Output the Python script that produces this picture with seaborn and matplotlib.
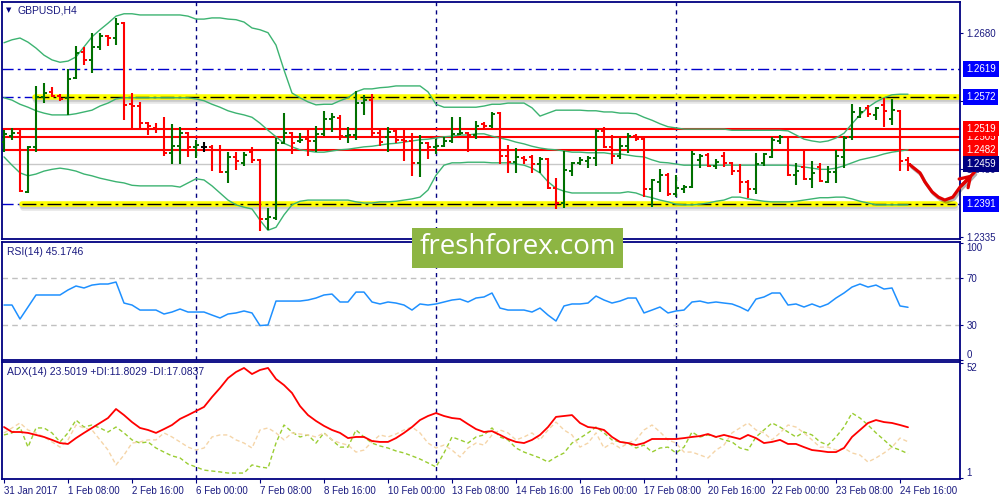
import numpy as np
import pandas as pd
import matplotlib
matplotlib.use("Agg")
import matplotlib.pyplot as plt
import matplotlib.patheffects as pe
from matplotlib.patches import Rectangle
from matplotlib.transforms import blended_transform_factory
import seaborn as sns

# GBPUSD H4, 31 Jan 2017 00:00 .. 24 Feb 2017 20:00 (prices in 1/10000)
bar_open = np.array([
    12496, 12506, 12511, 12412, 12488, 12572, 12581, 12574, 12571, 12604,
    12648, 12635, 12657, 12675, 12672, 12697, 12560, 12557, 12528, 12520,
    12518, 12478, 12489, 12511, 12488, 12488, 12488, 12483, 12445, 12471,
    12461, 12479, 12466, 12366, 12368, 12494, 12511, 12498, 12501, 12498,
    12510, 12535, 12537, 12506, 12508, 12562, 12567, 12511, 12505, 12515,
    12500, 12498, 12461, 12494, 12488, 12489, 12498, 12510, 12511, 12508,
    12527, 12523, 12545, 12472, 12462, 12469, 12471, 12459, 12467, 12418,
    12393, 12447, 12461, 12464, 12469, 12515, 12488, 12472, 12489, 12506,
    12501, 12417, 12429, 12440, 12408, 12417, 12420, 12466, 12474, 12456,
    12472, 12461, 12447, 12429, 12417, 12461, 12471, 12498, 12505, 12440,
    12454, 12434, 12454, 12429, 12445, 12471, 12505, 12538, 12554, 12542,
    12559, 12535, 12549, 12466]) / 10000
bar_high = np.array([
    12516, 12520, 12516, 12489, 12591, 12596, 12589, 12577, 12620, 12659,
    12657, 12681, 12681, 12677, 12706, 12699, 12579, 12564, 12530, 12528,
    12538, 12527, 12522, 12513, 12500, 12496, 12491, 12491, 12479, 12479,
    12479, 12488, 12467, 12385, 12503, 12545, 12513, 12511, 12520, 12523,
    12549, 12545, 12542, 12522, 12582, 12576, 12577, 12520, 12522, 12520,
    12520, 12511, 12508, 12496, 12501, 12505, 12538, 12538, 12513, 12532,
    12530, 12547, 12547, 12491, 12486, 12472, 12474, 12471, 12469, 12435,
    12481, 12462, 12471, 12472, 12518, 12522, 12508, 12503, 12511, 12510,
    12505, 12434, 12450, 12444, 12440, 12423, 12481, 12476, 12478, 12467,
    12479, 12462, 12459, 12432, 12478, 12478, 12505, 12508, 12506, 12461,
    12481, 12464, 12461, 12456, 12483, 12506, 12560, 12555, 12559, 12555,
    12571, 12569, 12550, 12471]) / 10000
bar_low = np.array([
    12479, 12500, 12412, 12410, 12479, 12562, 12572, 12566, 12542, 12603,
    12626, 12613, 12652, 12659, 12660, 12533, 12520, 12520, 12508, 12511,
    12472, 12459, 12459, 12471, 12469, 12479, 12447, 12444, 12427, 12449,
    12456, 12461, 12346, 12347, 12364, 12493, 12476, 12494, 12472, 12479,
    12506, 12513, 12500, 12494, 12500, 12542, 12505, 12489, 12479, 12494,
    12464, 12439, 12437, 12467, 12476, 12488, 12494, 12508, 12479, 12501,
    12520, 12520, 12459, 12444, 12444, 12459, 12444, 12444, 12417, 12383,
    12385, 12439, 12457, 12452, 12456, 12486, 12459, 12467, 12478, 12498,
    12403, 12386, 12412, 12405, 12403, 12410, 12418, 12452, 12454, 12450,
    12454, 12440, 12410, 12402, 12408, 12456, 12469, 12493, 12439, 12423,
    12432, 12418, 12429, 12427, 12427, 12452, 12500, 12537, 12538, 12533,
    12522, 12525, 12447, 12447]) / 10000
bar_close = np.array([
    12510, 12511, 12413, 12488, 12572, 12579, 12574, 12569, 12603, 12647,
    12635, 12657, 12675, 12672, 12696, 12559, 12557, 12528, 12523, 12518,
    12478, 12489, 12511, 12488, 12491, 12488, 12483, 12445, 12471, 12464,
    12474, 12466, 12366, 12369, 12494, 12511, 12494, 12500, 12498, 12510,
    12535, 12538, 12506, 12508, 12562, 12567, 12511, 12496, 12513, 12500,
    12498, 12461, 12494, 12488, 12489, 12498, 12510, 12511, 12508, 12523,
    12523, 12544, 12472, 12462, 12471, 12466, 12459, 12467, 12418, 12393,
    12449, 12461, 12466, 12469, 12515, 12488, 12472, 12489, 12506, 12501,
    12417, 12432, 12440, 12408, 12418, 12420, 12476, 12472, 12456, 12462,
    12461, 12447, 12429, 12417, 12459, 12476, 12500, 12505, 12440, 12447,
    12434, 12444, 12430, 12445, 12472, 12503, 12547, 12547, 12544, 12554,
    12549, 12550, 12464, 12459]) / 10000

# Bollinger bands (20)
bb_upper = np.array([
    12664, 12669, 12672, 12665, 12655, 12643, 12635, 12631, 12633, 12640,
    12657, 12674, 12686, 12697, 12709, 12713, 12713, 12711, 12711, 12711,
    12711, 12711, 12711, 12709, 12704, 12704, 12706, 12706, 12704, 12703,
    12699, 12689, 12686, 12681, 12660, 12618, 12579, 12571, 12564, 12559,
    12560, 12560, 12566, 12571, 12581, 12586, 12586, 12588, 12589, 12591,
    12591, 12591, 12591, 12581, 12560, 12555, 12555, 12555, 12555, 12555,
    12557, 12560, 12560, 12562, 12562, 12562, 12554, 12540, 12545, 12550,
    12550, 12550, 12550, 12549, 12549, 12547, 12547, 12545, 12545, 12544,
    12538, 12533, 12527, 12522, 12520, 12518, 12518, 12518, 12518, 12518,
    12518, 12516, 12516, 12516, 12516, 12516, 12516, 12516, 12515, 12508,
    12501, 12498, 12496, 12498, 12503, 12511, 12527, 12542, 12555, 12564,
    12571, 12576, 12577, 12577]) / 10000
bb_mid = np.array([
    12571, 12567, 12560, 12555, 12549, 12545, 12542, 12542, 12542, 12544,
    12547, 12550, 12557, 12562, 12569, 12571, 12571, 12571, 12571, 12571,
    12571, 12571, 12571, 12571, 12569, 12566, 12560, 12555, 12549, 12545,
    12542, 12538, 12528, 12516, 12505, 12494, 12488, 12483, 12481, 12479,
    12479, 12481, 12483, 12484, 12486, 12488, 12489, 12491, 12493, 12494,
    12496, 12498, 12500, 12501, 12503, 12505, 12506, 12508, 12508, 12510,
    12510, 12506, 12503, 12500, 12496, 12493, 12489, 12486, 12484, 12483,
    12481, 12479, 12479, 12478, 12478, 12478, 12476, 12476, 12474, 12472,
    12471, 12466, 12462, 12461, 12459, 12457, 12457, 12457, 12457, 12457,
    12457, 12457, 12457, 12457, 12457, 12457, 12457, 12457, 12457, 12456,
    12454, 12452, 12450, 12450, 12452, 12456, 12461, 12466, 12469, 12472,
    12476, 12479, 12481, 12483]) / 10000
bb_lower = np.array([
    12471, 12457, 12444, 12439, 12442, 12447, 12450, 12452, 12450, 12447,
    12442, 12439, 12435, 12432, 12429, 12427, 12423, 12422, 12422, 12422,
    12422, 12422, 12420, 12427, 12434, 12432, 12422, 12410, 12398, 12390,
    12386, 12383, 12364, 12347, 12352, 12373, 12390, 12396, 12398, 12398,
    12398, 12398, 12398, 12398, 12395, 12393, 12393, 12395, 12395, 12396,
    12398, 12400, 12403, 12415, 12440, 12457, 12461, 12461, 12462, 12462,
    12462, 12461, 12461, 12461, 12459, 12457, 12452, 12444, 12429, 12418,
    12413, 12410, 12410, 12410, 12410, 12410, 12410, 12410, 12412, 12410,
    12405, 12402, 12398, 12395, 12391, 12390, 12390, 12391, 12393, 12396,
    12398, 12403, 12403, 12400, 12398, 12396, 12395, 12395, 12395, 12396,
    12398, 12400, 12402, 12402, 12403, 12403, 12400, 12396, 12393, 12390,
    12390, 12390, 12390, 12390]) / 10000

rsi = [
    47.1, 47.1, 35.1, 45.4, 55.7, 55.7, 55.7, 55.7, 60.0, 63.4,
    61.7, 64.2, 65.1, 65.1, 66.8, 48.8, 47.1, 42.8, 42.8, 42.8,
    39.4, 41.1, 43.7, 41.1, 41.1, 41.1, 38.5, 36.0, 39.4, 40.3,
    42.0, 40.3, 29.5, 30.0, 50.5, 50.5, 50.5, 50.5, 51.4, 53.1,
    55.7, 56.5, 49.7, 49.7, 58.2, 58.2, 49.7, 48.0, 49.7, 48.8,
    47.1, 42.8, 48.0, 47.1, 48.0, 49.7, 51.4, 52.2, 49.7, 53.1,
    54.0, 57.4, 44.5, 42.8, 42.8, 42.8, 41.1, 44.5, 38.5, 33.4,
    46.3, 48.0, 48.0, 48.8, 54.8, 51.4, 48.8, 50.5, 53.1, 53.1,
    40.3, 42.8, 45.4, 40.3, 42.0, 42.8, 49.7, 50.5, 48.8, 49.7,
    48.8, 48.0, 45.4, 42.0, 52.2, 54.0, 57.4, 57.4, 47.1, 48.0,
    45.4, 48.0, 45.4, 48.0, 53.1, 57.4, 62.5, 65.1, 62.5, 64.2,
    60.8, 61.7, 46.3, 45.17]

adx = [
    23.6, 21.4, 21.4, 21.0, 20.1, 19.2, 17.9, 16.5, 16.1, 18.7,
    21.0, 23.2, 25.4, 27.6, 31.6, 28.9, 25.8, 23.2, 22.3, 21.0,
    22.7, 24.5, 27.2, 28.9, 30.7, 32.5, 36.9, 40.9, 45.3, 48.0,
    49.8, 47.1, 48.9, 49.8, 44.9, 42.2, 38.7, 32.9, 28.9, 26.3,
    24.1, 22.3, 21.0, 18.7, 19.2, 19.2, 17.4, 17.0, 17.0, 18.7,
    21.0, 23.6, 26.7, 28.5, 29.8, 28.5, 27.6, 27.2, 24.9, 22.7,
    21.4, 21.8, 20.1, 18.3, 17.0, 16.5, 17.9, 20.1, 23.6, 28.1,
    28.5, 28.9, 25.4, 23.6, 23.2, 22.3, 19.2, 17.0, 16.5, 15.6,
    16.5, 18.3, 18.3, 18.3, 18.3, 18.7, 19.2, 19.6, 20.5, 19.2,
    20.1, 19.2, 18.3, 20.1, 18.7, 16.5, 17.0, 17.9, 16.1, 16.1,
    14.7, 13.4, 13.0, 12.5, 12.5, 14.3, 19.2, 22.3, 25.4, 26.7,
    25.8, 25.4, 24.5, 23.5]
plus_di = [
    20.1, 21.0, 23.6, 14.7, 23.2, 23.2, 21.0, 17.0, 21.0, 26.7,
    23.6, 24.5, 23.2, 21.4, 23.6, 21.0, 17.9, 16.5, 17.0, 14.3,
    12.5, 10.8, 9.9, 7.2, 5.9, 4.5, 4.1, 3.7, 3.2, 3.2,
    3.2, 6.8, 5.9, 5.4, 16.5, 24.5, 21.4, 19.2, 20.1, 16.5,
    21.0, 17.9, 14.7, 14.7, 22.3, 19.2, 16.5, 15.2, 14.3, 13.0,
    12.1, 10.8, 9.4, 7.7, 5.9, 12.1, 19.2, 17.9, 16.5, 19.2,
    20.1, 23.2, 19.2, 17.9, 14.3, 12.5, 11.2, 9.9, 8.1, 10.3,
    12.1, 16.5, 18.7, 21.0, 23.6, 21.0, 17.9, 17.0, 16.5, 14.3,
    15.6, 12.5, 14.3, 14.7, 12.1, 14.7, 21.4, 19.2, 20.1, 19.2,
    17.9, 17.0, 14.3, 13.4, 19.2, 22.3, 25.4, 23.6, 21.4, 19.2,
    21.4, 20.1, 17.0, 15.6, 19.2, 23.6, 29.8, 27.6, 24.5, 21.0,
    17.9, 14.7, 13.4, 11.8]
minus_di = [
    21.0, 23.2, 25.4, 22.3, 21.0, 19.2, 17.0, 14.7, 17.9, 24.5,
    23.2, 22.3, 17.9, 13.4, 6.8, 11.2, 16.5, 17.0, 17.9, 17.9,
    21.0, 19.2, 17.0, 14.7, 13.4, 14.3, 19.2, 20.1, 20.1, 17.9,
    16.5, 14.3, 22.3, 23.2, 21.0, 17.9, 21.0, 20.5, 20.1, 19.2,
    21.0, 17.9, 16.5, 15.6, 12.5, 13.4, 17.0, 20.1, 19.2, 20.5,
    22.3, 23.6, 21.0, 16.5, 14.3, 15.6, 13.4, 10.3, 14.3, 16.5,
    15.6, 20.1, 22.3, 21.0, 17.9, 19.2, 21.0, 17.9, 22.3, 25.8,
    22.3, 20.1, 14.7, 16.5, 21.0, 14.3, 16.5, 14.3, 16.5, 17.9,
    22.3, 24.5, 21.4, 17.9, 16.5, 12.5, 12.5, 11.2, 9.9, 13.4,
    15.6, 21.0, 23.2, 25.4, 22.3, 21.0, 17.9, 21.0, 24.5, 23.6,
    21.0, 17.9, 14.7, 14.7, 13.4, 14.3, 12.1, 11.2, 8.1, 9.9,
    12.1, 14.7, 18.7, 17.08]

date_labels = ["31 Jan 2017", "1 Feb 08:00", "2 Feb 16:00", "6 Feb 00:00",
               "7 Feb 08:00", "8 Feb 16:00", "10 Feb 00:00", "13 Feb 08:00",
               "14 Feb 16:00", "16 Feb 00:00", "17 Feb 08:00", "20 Feb 16:00",
               "22 Feb 00:00", "23 Feb 08:00", "24 Feb 16:00"]
week_starts = [24, 54, 84]
price_ticks = [1.2680, 1.2565, 1.2450, 1.2335]
level_blue = 1.2619
levels_yellow = [1.2572, 1.2391]
levels_red = [1.2519, 1.2505, 1.2482]
last_price = 1.2459
# hand drawn forecast arrow (bar, price)
arrow_x = [113.3, 114.5, 115.1, 116.0, 116.8, 117.6, 118.6, 119.5, 120.4, 121.3]
arrow_y = [1.2457, 1.2444, 1.2429, 1.2412, 1.2403, 1.2398, 1.2403, 1.2420, 1.2432, 1.2445]

df = pd.DataFrame({"bar": np.arange(len(bar_open)), "upper": bb_upper, "mid": bb_mid,
                   "lower": bb_lower, "rsi": rsi, "adx": adx, "pdi": plus_di, "mdi": minus_di})

sns.set_style("white")
plt.rcParams["font.family"] = ["Liberation Sans", "DejaVu Sans"]
navy = "#1a1a80"
fs = 7

fig = plt.figure(figsize=(10, 5), dpi=100)
ax = fig.add_axes([0.002, 0.522, 0.958, 0.474])
ax_rsi = fig.add_axes([0.002, 0.28, 0.958, 0.236])
ax_adx = fig.add_axes([0.002, 0.042, 0.958, 0.234])

for a in (ax, ax_rsi, ax_adx):
    a.set_xlim(-0.25, 119.5)
    for s in a.spines.values():
        s.set_color("#000080")
        s.set_linewidth(1.3)
    a.yaxis.tick_right()
    a.tick_params(axis="y", which="both", left=False, right=True, direction="out",
                  length=2.5, pad=2, color="#000080", labelcolor=navy, labelsize=fs)
    for w in week_starts:
        a.axvline(w, color="#000080", lw=1, ls=(0, (3, 3)), zorder=1)

# ---- main price panel
ax.set_ylim(1.23322, 1.27329)
ax.axhline(last_price, color="#c8c8c8", lw=1, zorder=1)
blue_ls = (0, (8, 3, 2, 3))
ax.axhline(level_blue, color="#0000cd", lw=1, ls=blue_ls, zorder=1)
shadow = [pe.SimpleLineShadow(offset=(0, -1.5), shadow_color="black", alpha=0.12),
          pe.SimpleLineShadow(offset=(0.5, -3.0), shadow_color="black", alpha=0.1),
          pe.Normal()]
for lv, (x0, x1) in zip(levels_yellow, [(3.9, 119.5), (2.25, 118.9)]):
    ax.axhline(lv, color="#0000cd", lw=1, ls=blue_ls, zorder=1)
    ax.plot([x0, x1], [lv, lv], color="#ffff00", lw=4, zorder=2, path_effects=shadow)
    ax.plot([x0, x1], [lv, lv], color="black", lw=1, ls=(0, (10, 3, 2, 3)), zorder=3)
for lv in levels_red:
    ax.axhline(lv, color="#ff0000", lw=1.5, zorder=2)

for col in ["upper", "mid", "lower"]:
    sns.lineplot(data=df, x="bar", y=col, ax=ax, color="#3cb371", lw=1, zorder=3)

idx = df["bar"].to_numpy()
bar_col = np.where(bar_close > bar_open, "#007000",
                   np.where(bar_close < bar_open, "#ff0000", "#000000"))
ax.vlines(idx, bar_low, bar_high, colors=bar_col, lw=1.5, zorder=4)
ax.hlines(bar_open, idx - 0.42, idx, colors=bar_col, lw=1.4, zorder=4)
ax.hlines(bar_close, idx, idx + 0.42, colors=bar_col, lw=1.4, zorder=4)

arrow_fx = [pe.SimpleLineShadow(offset=(1, -1.5), shadow_color="black", alpha=0.3), pe.Normal()]
ax.plot(arrow_x, arrow_y, color="#e00000", lw=2.3, clip_on=False, zorder=6,
        solid_capstyle="round", path_effects=arrow_fx)
ax.annotate("", xy=(arrow_x[-1], arrow_y[-1]), xytext=(arrow_x[-3], arrow_y[-3]),
            arrowprops=dict(arrowstyle="->,head_length=0.7,head_width=0.45",
                            color="#e00000", lw=2.3), annotation_clip=False, zorder=6)

ax.set_yticks(price_ticks)
ax.set_yticklabels([f"{p:.4f}" for p in price_ticks])
ax.set_xticks([])
ax.set_xlabel("")
ax.set_ylabel("")

tr = blended_transform_factory(ax.transAxes, ax.transData)
boxes = [(level_blue, "#0000ff"), (levels_yellow[0], "#0000ff"), (levels_red[2], "#ff0000"),
         (levels_red[1], "#ff0000"), (levels_red[0], "#ff0000"), (last_price, "#000080"),
         (levels_yellow[1], "#0000ff")]
for p, c in boxes:
    ax.text(1.0063, p, f"{p:.4f}", transform=tr, ha="left", va="center", color="white",
            fontsize=fs, clip_on=False, zorder=10,
            bbox=dict(boxstyle="square,pad=0.3", fc=c, ec="none"))

ax.text(0.0045, 0.966, "\u25bc", transform=ax.transAxes, fontsize=5, color="#000080",
        va="center", ha="left", family="DejaVu Sans")
ax.text(0.0167, 0.966, "GBPUSD,H4", transform=ax.transAxes, fontsize=fs + 0.5, color=navy,
        va="center", ha="left")

# ---- RSI panel
ax_rsi.set_ylim(0, 101.1)
for lv in (70, 30):
    ax_rsi.axhline(lv, color="#c0c0c0", lw=1, ls=(0, (4, 3)), zorder=1)
sns.lineplot(data=df, x="bar", y="rsi", ax=ax_rsi, color="#1e90ff", lw=1.1, zorder=3)
ax_rsi.set_yticks([100, 70, 30, 0])
ax_rsi.set_yticklabels(["100", "70", "30", "0"])
rl = ax_rsi.get_yticklabels()
rl[0].set_va("top")
rl[-1].set_va("bottom")
ax_rsi.set_xticks([])
ax_rsi.set_xlabel("")
ax_rsi.set_ylabel("")
ax_rsi.text(0.0052, 0.915, "RSI(14) 45.1746", transform=ax_rsi.transAxes, fontsize=fs + 0.5,
            color=navy, va="center", ha="left")

# ---- ADX panel
ax_adx.set_ylim(0.56, 52.44)
sns.lineplot(data=df, x="bar", y="pdi", ax=ax_adx, color="#9acd32", lw=1, ls=(0, (3, 2)), zorder=2)
sns.lineplot(data=df, x="bar", y="mdi", ax=ax_adx, color="#f5d5a8", lw=1, ls=(0, (3, 2)), zorder=2)
sns.lineplot(data=df, x="bar", y="adx", ax=ax_adx, color="#ff0000", lw=1.3, zorder=3)
ax_adx.set_yticks([52, 1])
ax_adx.set_yticklabels(["52", "1"])
al = ax_adx.get_yticklabels()
al[0].set_va("top")
al[-1].set_va("bottom")
ax_adx.set_xticks(np.arange(0, 113, 8))
ax_adx.set_xticklabels(date_labels, ha="left")
ax_adx.tick_params(axis="x", bottom=True, direction="out", length=3, pad=2,
                   color="#000080", labelcolor=navy, labelsize=fs)
ax_adx.set_xlabel("")
ax_adx.set_ylabel("")
ax_adx.text(0.0052, 0.915, "ADX(14) 23.5019 +DI:11.8029 -DI:17.0837", transform=ax_adx.transAxes,
            fontsize=fs + 0.5, color=navy, va="center", ha="left")

# ---- watermark
fig.patches.append(Rectangle((0.412, 0.464), 0.211, 0.08, transform=fig.transFigure,
                             facecolor="#8db543", edgecolor="none", zorder=20))
fig.text(0.5175, 0.505, "freshforex.com", color="white", fontsize=20, ha="center",
         va="center", family=["Open Sans", "DejaVu Sans"], zorder=21)

fig.savefig("out.png", dpi=100)
